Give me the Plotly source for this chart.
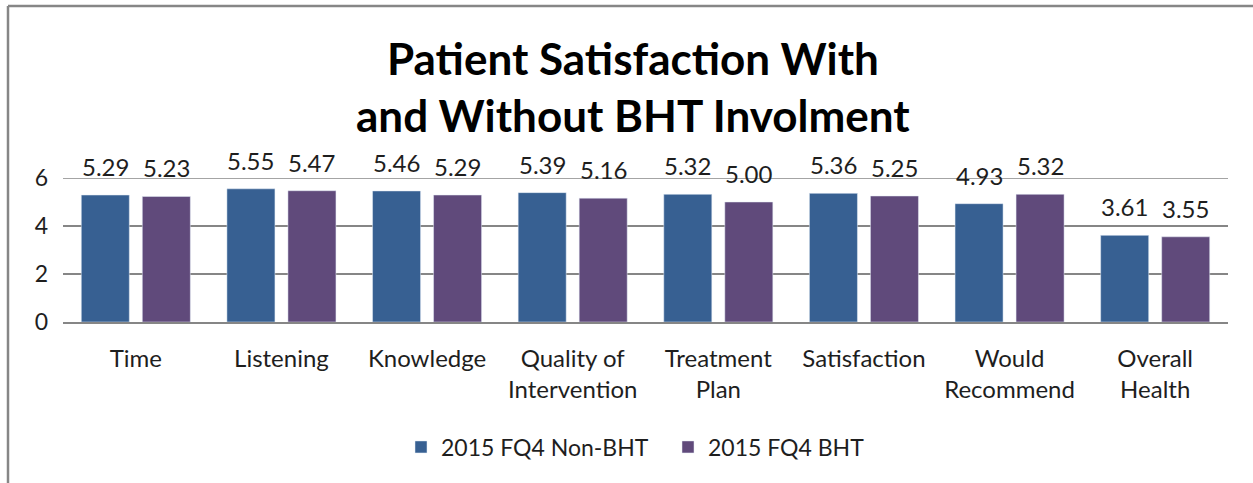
"""Grouped bar chart: patient satisfaction with and without BHT"""
import plotly.graph_objs as go

categories = ['Time', 'Listening', 'Knowledge', 'Quality of<br>Intervention',
              'Treatment<br>Plan', 'Satisfaction', 'Would<br>Recommend',
              'Overall<br>Health']
non_bht = [5.29, 5.55, 5.46, 5.39, 5.32, 5.36, 4.93, 3.61]
bht = [5.23, 5.47, 5.29, 5.16, 5.00, 5.25, 5.32, 3.55]
series_names = ['2015 FQ4 Non-BHT', '2015 FQ4 BHT']
y_ticks = [0, 2, 4, 6]

blue = 'rgb(55,96,146)'
purple = 'rgb(96,74,123)'
gray = 'rgb(134,134,134)'
txt = 'rgb(30,30,30)'
font = 'Lato'

W, H = 1253, 483
L, R, T, B = 63, 25, 178, 161
pw, ph = W - L - R, H - T - B


def px(x):
    return (x - L) / pw


def py(y):
    return (H - B - y) / ph


data = [
    go.Bar(x=categories, y=non_bht, name=series_names[0],
           marker=dict(color=blue)),
    go.Bar(x=categories, y=bht, name=series_names[1],
           marker=dict(color=purple)),
]

# value labels above the bars
annotations = []
for vals, shift in ((non_bht, -30.5), (bht, 30.5)):
    for c, v in zip(categories, vals):
        annotations.append(dict(
            x=c, y=v, text='%.2f' % v, xref='x', yref='y',
            xshift=shift, yshift=12, yanchor='bottom', showarrow=False,
            font=dict(family=font, size=24, color=txt)))

# two-line title
annotations.append(dict(text='<b>Patient Satisfaction With</b>', x=px(633),
                        y=py(58), xref='paper', yref='paper',
                        showarrow=False, yanchor='middle',
                        font=dict(family=font, size=44, color='black')))
annotations.append(dict(text='<b>and Without BHT Involment</b>', x=px(633),
                        y=py(115), xref='paper', yref='paper',
                        showarrow=False, yanchor='middle',
                        font=dict(family=font, size=44, color='black')))

layout = go.Layout(
    width=W, height=H,
    margin=dict(l=L, r=R, t=T, b=B),
    plot_bgcolor='white', paper_bgcolor='white',
    bargap=0.162, bargroupgap=0.213,
    showlegend=True,
    legend=dict(orientation='h', x=px(668), xanchor='center', y=py(447),
                yanchor='middle', font=dict(family=font, size=23, color=txt),
                entrywidth=222, entrywidthmode='pixels'),
    xaxis=dict(tickfont=dict(family=font, size=24, color=txt),
               showline=True, linecolor=gray, linewidth=1.5,
               ticks='', ticklabelstandoff=14, fixedrange=True),
    yaxis=dict(range=[0, 6], tickvals=y_ticks, showgrid=True,
               gridcolor=gray, gridwidth=1.5, zeroline=False,
               tickfont=dict(family=font, size=23, color=txt),
               ticklabelstandoff=14, fixedrange=True),
    annotations=annotations,
    shapes=[
        # top gridline (plotly drops the one on the plot edge)
        dict(type='line', xref='paper', yref='y', x0=0, x1=1,
             y0=y_ticks[-1], y1=y_ticks[-1],
             line=dict(color=gray, width=1.5)),
        dict(type='line', xref='paper', yref='paper', x0=px(8), x1=px(8),
             y0=py(6), y1=py(H + 10), line=dict(color=gray, width=2.5)),
        dict(type='line', xref='paper', yref='paper', x0=px(8), x1=px(W + 10),
             y0=py(6), y1=py(6), line=dict(color=gray, width=2.5)),
    ],
)

fig = go.Figure(data=data, layout=layout)
# drop the default page margin so the figure sits at the window's corner
fig.write_html('out.html', config={'displayModeBar': False},
               post_script="document.body.style.margin='0';")
